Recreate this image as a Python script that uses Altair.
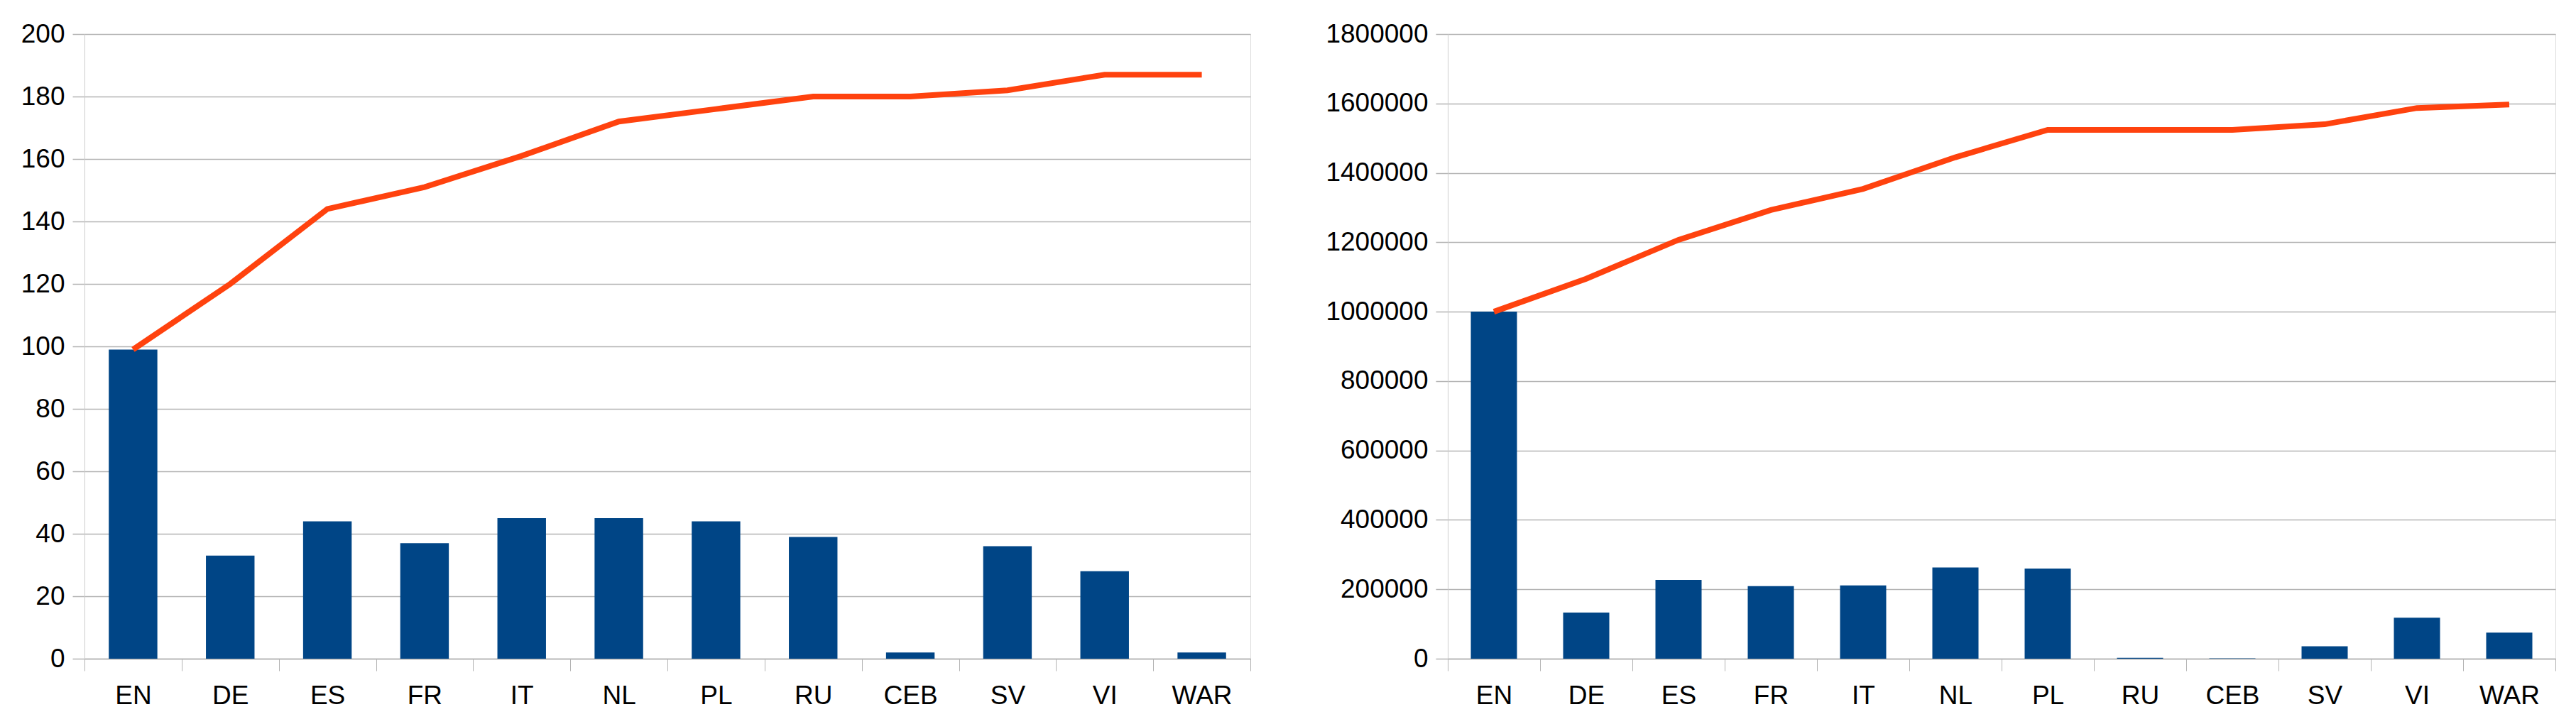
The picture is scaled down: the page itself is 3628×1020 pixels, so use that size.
import altair as alt
import pandas as pd

categories = ["EN", "DE", "ES", "FR", "IT", "NL", "PL", "RU", "CEB", "SV", "VI", "WAR"]

left_bars = [99, 33, 44, 37, 45, 45, 44, 39, 2, 36, 28, 2]
left_line = [99, 120, 144, 151, 161, 172, 176, 180, 180, 182, 187, 187]

right_bars = [1000000, 133000, 227000, 209000, 211000, 263000, 260000, 2700, 1000, 36000, 118000, 75000]
right_line = [1000000, 1095000, 1207000, 1293000, 1354000, 1445000, 1524000, 1524000, 1524000, 1540000, 1587000, 1597000]

left_ticks = [0, 20, 40, 60, 80, 100, 120, 140, 160, 180, 200]
right_ticks = [0, 200000, 400000, 600000, 800000, 1000000, 1200000, 1400000, 1600000, 1800000]

BAR = "#004586"
LINE = "#ff420e"
GRID = "#b3b3b3"
FONT = "Liberation Sans"


def panel(bars, line, ticks, width, extent):
    df = pd.DataFrame({"cat": categories, "bar": bars, "line": line, "order": list(range(len(categories)))})
    x = alt.X(
        "cat:N", sort=categories, title=None,
        scale=alt.Scale(paddingInner=0, paddingOuter=0),
        axis=alt.Axis(labelAngle=0, tickBand="extent", ticks=True, tickSize=17,
                      tickColor=GRID, tickWidth=1, labelPadding=17,
                      domainColor=GRID, domainWidth=1.5, grid=False,
                      labelFontSize=37, labelFont=FONT, labelColor="black"),
    )
    y_axis = alt.Axis(values=ticks, format="d", title=None, tickSize=17, tickColor=GRID,
                      tickWidth=1.5, labelPadding=11, gridColor=GRID, gridWidth=1.5,
                      domainColor="#cccccc", domainWidth=1, minExtent=extent,
                      labelFontSize=37, labelFont=FONT, labelColor="black")
    ymax = ticks[-1]
    bar_ch = alt.Chart(df).mark_bar(color=BAR, width={"band": 0.5}).encode(
        x=x,
        y=alt.Y("bar:Q", title=None, scale=alt.Scale(domain=[0, ymax], nice=False), axis=y_axis),
    )
    line_ch = alt.Chart(df).mark_line(color=LINE, strokeWidth=8).encode(
        x=x,
        y=alt.Y("line:Q", title=None),
        order="order:Q",
    )
    return alt.layer(bar_ch, line_ch).properties(width=width, height=880)


left = panel(left_bars, left_line, left_ticks, 1642, 105)
right = panel(right_bars, right_line, right_ticks, 1560, 174)

chart = alt.hconcat(left, right, spacing=102).properties(
    padding={"left": 5, "top": 20, "right": 5, "bottom": 5}
).configure_view(stroke="#d0d0d0", strokeWidth=1).configure(background="white")

chart.save("out.html", embed_options={"renderer": "svg", "actions": False})
